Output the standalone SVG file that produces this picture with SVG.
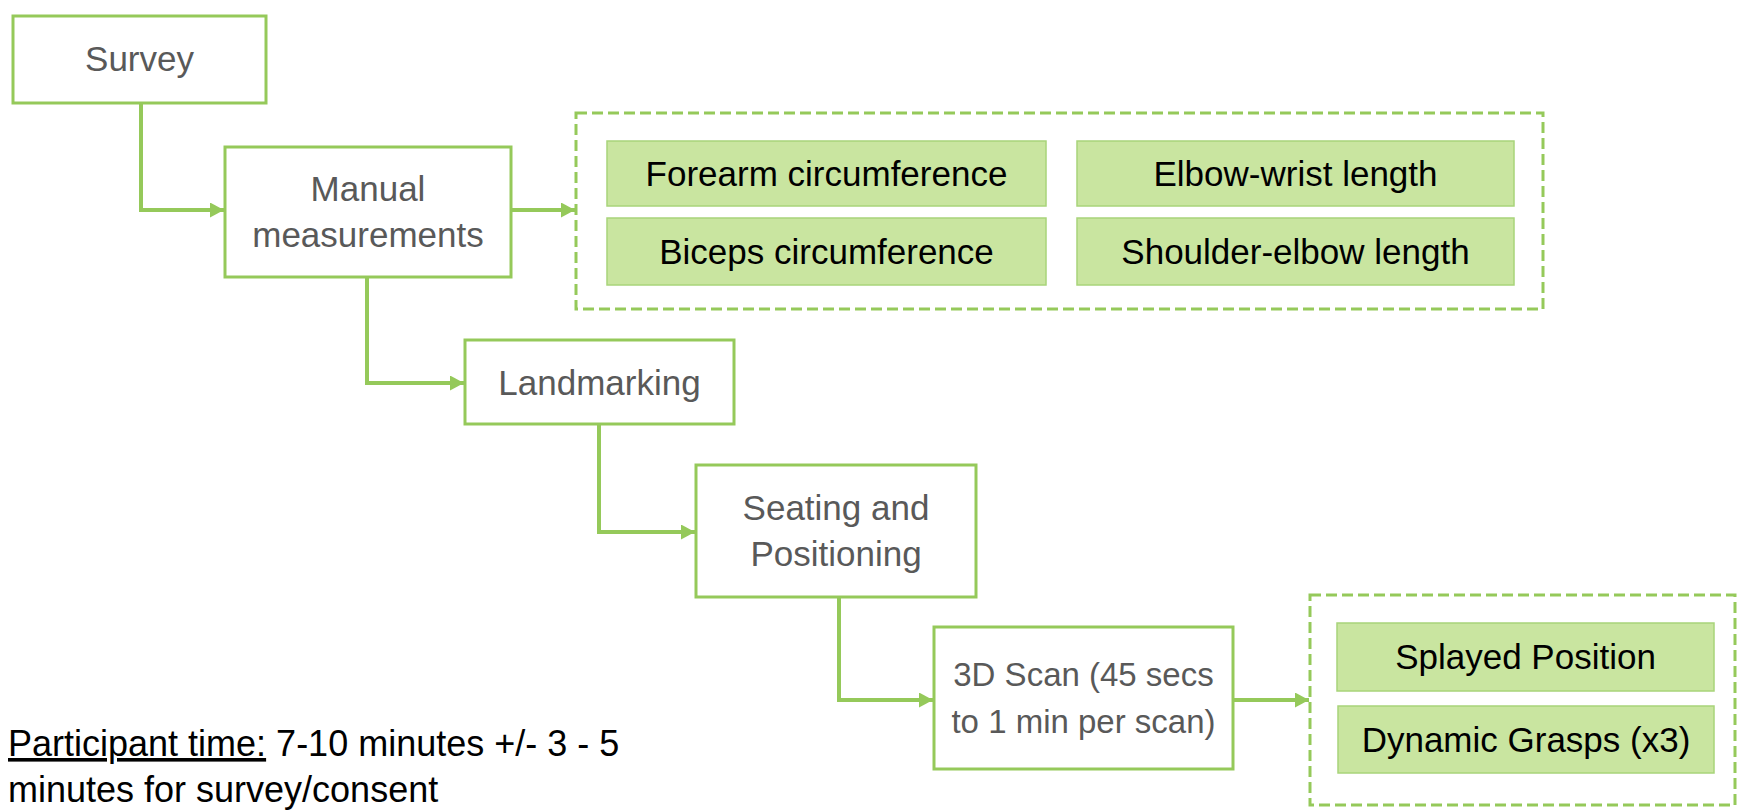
<svg xmlns="http://www.w3.org/2000/svg" width="1737" height="811" viewBox="0 0 1737 811">
<style>
.box{fill:#ffffff;stroke:#95C95A;stroke-width:3}
.grp{fill:none;stroke:#95C95A;stroke-width:3;stroke-dasharray:11 5}
.item{fill:#C9E5A0;stroke:#A8D47A;stroke-width:1.5}
.t{font-family:"Liberation Sans",Arial,sans-serif;font-size:35px;fill:#595959;text-anchor:middle}
.ts{font-size:33px}
.ti{font-family:"Liberation Sans",Arial,sans-serif;font-size:35px;fill:#000000;text-anchor:middle}
.note{font-family:"Liberation Sans",Arial,sans-serif;font-size:36px;fill:#000000}
.c{fill:none;stroke:#95C95A;stroke-width:4}
</style>
<defs>
<marker id="ah" markerUnits="userSpaceOnUse" markerWidth="15" markerHeight="15" refX="14" refY="7.5" orient="auto">
<path d="M0,0 L14,7.5 L0,15 z" fill="#95C95A"/>
</marker>
</defs>
<rect width="1737" height="811" fill="#ffffff"/>
<g id="connectors">
<path class="c" d="M141,103 V210 H224" marker-end="url(#ah)"/>
<path class="c" d="M511,210 H575" marker-end="url(#ah)"/>
<path class="c" d="M367,277 V383 H464" marker-end="url(#ah)"/>
<path class="c" d="M599,424 V532 H695" marker-end="url(#ah)"/>
<path class="c" d="M839,597 V700 H933" marker-end="url(#ah)"/>
<path class="c" d="M1233,700 H1309" marker-end="url(#ah)"/>
</g>
<g id="survey">
<rect class="box" x="13" y="16" width="253" height="87"/>
<text class="t" x="139.5" y="71">Survey</text>
</g>
<g id="manual">
<rect class="box" x="225" y="147" width="286" height="130"/>
<text class="t" x="368" y="201">Manual</text>
<text class="t" x="368" y="247">measurements</text>
</g>
<g id="measurements-group">
<rect class="grp" x="576" y="113" width="967" height="196"/>
</g>
<g id="forearm">
<rect class="item" x="607" y="141" width="439" height="65"/>
<text class="ti" x="826.5" y="186">Forearm circumference</text>
</g>
<g id="biceps">
<rect class="item" x="607" y="218" width="439" height="67"/>
<text class="ti" x="826.5" y="264">Biceps circumference</text>
</g>
<g id="elbow-wrist">
<rect class="item" x="1077" y="141" width="437" height="65"/>
<text class="ti" x="1295.5" y="186">Elbow-wrist length</text>
</g>
<g id="shoulder-elbow">
<rect class="item" x="1077" y="218" width="437" height="67"/>
<text class="ti" x="1295.5" y="264">Shoulder-elbow length</text>
</g>
<g id="landmarking">
<rect class="box" x="465" y="340" width="269" height="84"/>
<text class="t" x="599.5" y="395">Landmarking</text>
</g>
<g id="seating">
<rect class="box" x="696" y="465" width="280" height="132"/>
<text class="t" x="836" y="520">Seating and</text>
<text class="t" x="836" y="566">Positioning</text>
</g>
<g id="scan">
<rect class="box" x="934" y="627" width="299" height="142"/>
<text class="t ts" x="1083.5" y="686">3D Scan (45 secs</text>
<text class="t ts" x="1083.5" y="733">to 1 min per scan)</text>
</g>
<g id="scan-group">
<rect class="grp" x="1310" y="595" width="425" height="210"/>
</g>
<g id="splayed">
<rect class="item" x="1337" y="623" width="377" height="68"/>
<text class="ti" x="1525.5" y="669">Splayed Position</text>
</g>
<g id="dynamic">
<rect class="item" x="1338" y="706" width="376" height="67"/>
<text class="ti" x="1526" y="752">Dynamic Grasps (x3)</text>
</g>
<g id="note">
<text class="note" x="8" y="756"><tspan text-decoration="underline">Participant time:</tspan> 7-10 minutes +/- 3 - 5</text>
<text class="note" x="8" y="802">minutes for survey/consent</text>
</g>
</svg>
